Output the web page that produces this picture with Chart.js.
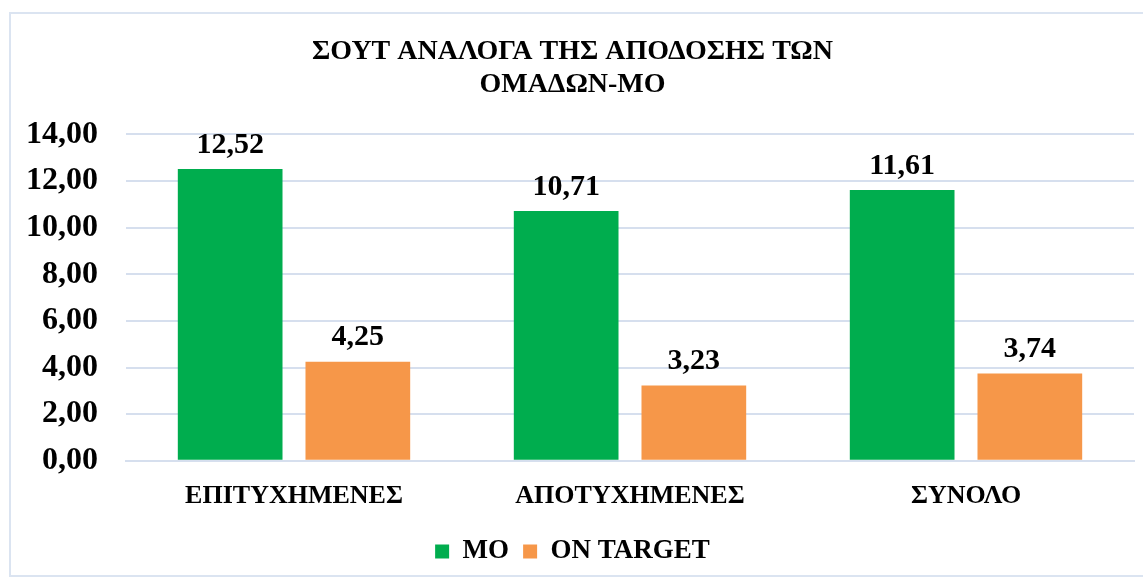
<!DOCTYPE html>
<html>
<head>
<meta charset="utf-8">
<script src="https://cdn.jsdelivr.net/npm/chart.js@4"></script>
<style>
  body { margin: 0; background: #fff; }
  #box { position: absolute; left: 9px; top: 12px; width: 1140px; height: 565px; border: 2px solid #dbe4f1; box-sizing: border-box; }
</style>
</head>
<body>
<div id="box"><canvas id="barchart"></canvas></div>
<script>
const categories = ['ΕΠΙΤΥΧΗΜΕΝΕΣ', 'ΑΠΟΤΥΧΗΜΕΝΕΣ', 'ΣΥΝΟΛΟ'];
const moValues = [12.52, 10.71, 11.61];
const onTargetValues = [4.25, 3.23, 3.74];
const yTicks = [0, 2, 4, 6, 8, 10, 12, 14];

const serif = "'Liberation Serif', 'Times New Roman', serif";
const fmt = v => v.toFixed(2).replace('.', ',');

Chart.defaults.font.family = serif;

// draws value above each bar, Excel style
const valueLabels = {
    id: 'valueLabels',
    afterDatasetsDraw(chart) {
        const ctx = chart.ctx;
        ctx.save();
        ctx.font = 'bold 30px ' + serif;
        ctx.fillStyle = '#000';
        ctx.textAlign = 'center';
        ctx.textBaseline = 'bottom';
        chart.data.datasets.forEach((ds, i) => {
            chart.getDatasetMeta(i).data.forEach((bar, j) => {
                ctx.fillText(fmt(ds.data[j]), bar.x, bar.y - 9);
            });
        });
        ctx.restore();
    }
};

let chart = new Chart(document.getElementById('barchart').getContext('2d'), {
    type: 'bar',
    data: {
        labels: categories,
        datasets: [{
            label: 'MO',
            data: moValues,
            backgroundColor: '#00ad4e'
        }, {
            label: 'ON TARGET',
            data: onTargetValues,
            backgroundColor: '#f69749'
        }]
    },
    options: {
        responsive: true,
        maintainAspectRatio: false,
        animation: false,
        categoryPercentage: 0.76,
        barPercentage: 0.82,
        layout: { padding: { left: 0, right: 13, top: 10, bottom: 0 } },
        plugins: {
            title: {
                display: true,
                text: ['ΣΟΥΤ ΑΝΑΛΟΓΑ ΤΗΣ ΑΠΟΔΟΣΗΣ ΤΩΝ', 'ΟΜΑΔΩΝ-ΜΟ'],
                color: '#000',
                font: { family: serif, size: 28, weight: 'bold', lineHeight: 1.15 },
                padding: { top: 12, bottom: 34 }
            },
            legend: {
                display: true,
                position: 'bottom',
                labels: {
                    color: '#000',
                    boxWidth: 14,
                    boxHeight: 14,
                    padding: 14,
                    font: { family: serif, size: 27, weight: 'bold' }
                }
            },
            tooltip: { enabled: false }
        },
        scales: {
            x: {
                grid: { display: false },
                border: { color: '#d6dfee', width: 2 },
                ticks: {
                    color: '#000',
                    padding: 12,
                    font: { family: serif, size: 26, weight: 'bold' }
                }
            },
            y: {
                min: 0,
                max: 14,
                afterBuildTicks: axis => { axis.ticks = yTicks.map(v => ({ value: v })); },
                afterFit: axis => { axis.width = 115; },
                grid: { color: '#d6dfee', lineWidth: 2, tickLength: 0 },
                border: { display: false },
                ticks: {
                    color: '#000',
                    padding: 28,
                    callback: v => fmt(v),
                    font: { family: serif, size: 32, weight: 'bold' }
                }
            }
        }
    },
    plugins: [valueLabels]
});
</script>
</body>
</html>
